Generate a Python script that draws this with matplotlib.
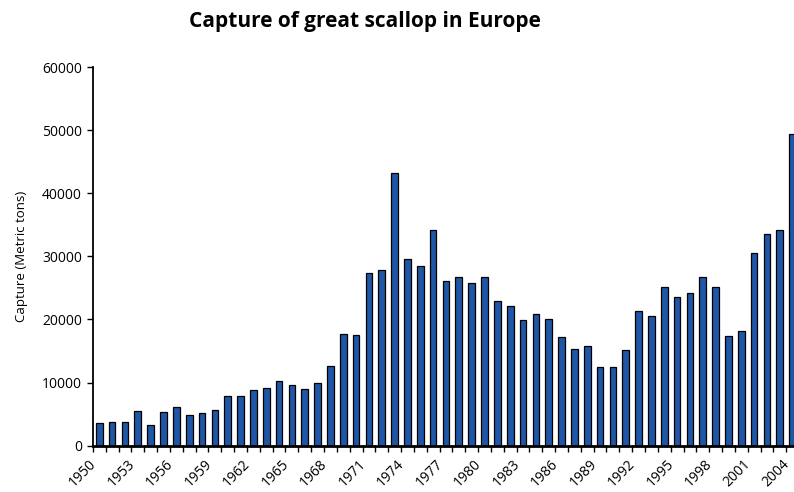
import matplotlib
matplotlib.use("Agg")
import matplotlib.pyplot as plt
import numpy as np

years = list(range(1950, 2005))
capture = [3550, 3750, 3750, 5490, 3280, 5290, 6120, 4860, 5130, 5700,
           7900, 7900, 8820, 9180, 10290, 9660, 8980, 9880, 12640, 17730,
           17520, 27290, 27770, 43280, 29510, 28400, 34100, 26020, 26660, 25800,
           26660, 22900, 22070, 19900, 20800, 20100, 17300, 15300, 15730, 12460,
           12460, 15150, 21270, 20530, 25120, 23590, 24120, 26660, 25120, 17320,
           18160, 30610, 33620, 34100, 49390]

plt.rcParams['font.family'] = ['Open Sans', 'DejaVu Sans']

fig = plt.figure(figsize=(7.94, 4.92), dpi=100)
ax = fig.add_axes([0.117, 0.0941, 0.8894, 0.7697])

x = np.arange(len(years))
ax.bar(x, capture, width=0.52, color='#1f56a6', edgecolor='black', linewidth=0.9)

ax.set_xlim(-0.5, len(years) - 0.5)
ax.set_ylim(0, 60000)
ax.set_yticks(range(0, 60001, 10000))
ax.tick_params(axis='y', labelsize=10, length=4, width=1, direction='out', pad=4)

# labels every 3 years at bar centres, tick marks between categories
ax.set_xticks(x[::3])
ax.set_xticklabels([str(y) for y in years[::3]], rotation=45, ha='right')
ax.set_xticks(np.arange(-0.5, len(years), 1), minor=True)
ax.tick_params(axis='x', which='major', length=0, labelsize=10, pad=8)
ax.tick_params(axis='x', which='minor', length=4, width=1, direction='out')

ax.spines['top'].set_visible(False)
ax.spines['right'].set_visible(False)
ax.spines['bottom'].set_linewidth(2)
ax.spines['left'].set_linewidth(1.3)

ax.set_ylabel('Capture (Metric tons)', fontsize=9.5, labelpad=10)
fig.text(0.46, 0.957, 'Capture of great scallop in Europe', ha='center', va='center',
         fontsize=15, fontweight='bold')

fig.savefig('out.png', dpi=100)
